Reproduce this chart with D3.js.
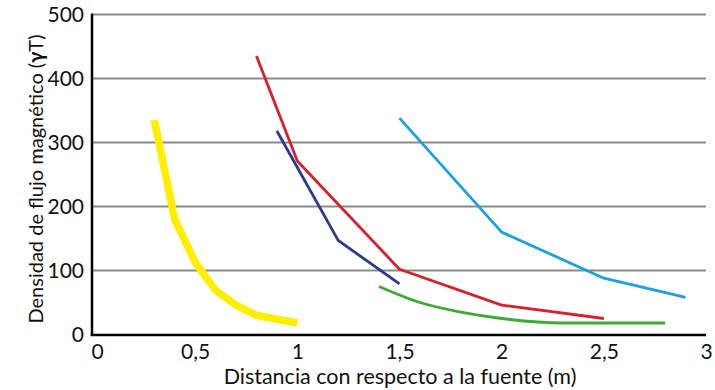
<!DOCTYPE html>
<html><head><meta charset="utf-8">
<script src="https://cdn.jsdelivr.net/npm/d3@7"></script>
<style>body{margin:0;background:#fff}svg{display:block}text{font-family:Lato,"Open Sans",sans-serif}</style>
</head><body><svg id="c" width="715" height="390"></svg>
<script>
const xTicks = [0, 0.5, 1, 1.5, 2, 2.5, 3];
const yTicks = [0, 100, 200, 300, 400, 500];
const yellowX = [0.3, 0.4, 0.5, 0.6, 0.7, 0.8, 1.0];
const yellowY = [335, 180, 113, 69, 46, 30, 18];
const redX = [0.8, 1.0, 1.5, 2.0, 2.5];
const redY = [435, 271, 102, 46, 25];
const navyX = [0.9, 1.2, 1.5];
const navyY = [318, 147, 79];
const skyX = [1.5, 2.0, 2.5, 2.9];
const skyY = [338, 160, 88, 58];
const greenX = [1.4, 1.6, 1.8, 2.0, 2.3, 2.8];
const greenY = [75, 50, 35, 25, 18, 18];

const svg = d3.select("#c");
const x = d3.scaleLinear().domain([0, 3]).range([93, 706]);
const y = d3.scaleLinear().domain([0, 500]).range([334.5, 14.5]);

// gridlines
svg.append("g").selectAll("line").data(yTicks.filter(d => d > 0)).join("line")
  .attr("x1", x(0)).attr("x2", x(3)).attr("y1", d => y(d)).attr("y2", d => y(d))
  .attr("stroke", "#8a8a8a").attr("stroke-width", 2);

// y axis labels
const ya = svg.append("g").attr("transform", `translate(${x(0) - 1},0)`)
  .call(d3.axisLeft(y).tickValues(yTicks).tickSize(0).tickPadding(8));
ya.select(".domain").remove();
ya.selectAll("text").attr("font-size", 21).attr("fill", "#111").attr("font-family", "Lato");

// x axis labels
const xa = svg.append("g").attr("transform", `translate(0,${y(0)})`)
  .call(d3.axisBottom(x).tickValues(xTicks).tickSize(0).tickPadding(10)
    .tickFormat(d => String(d).replace(".", ",")));
xa.select(".domain").remove();
xa.selectAll("text").attr("font-size", 21).attr("fill", "#111").attr("font-family", "Lato")
  .attr("dx", (d, i) => i === 0 ? 4 : 0);

// axis lines
svg.append("line").attr("x1", x(0) - 1).attr("x2", x(0) - 1).attr("y1", y(500) - 1).attr("y2", y(0) + 1.5)
  .attr("stroke", "#000").attr("stroke-width", 2.5);
svg.append("line").attr("x1", x(0) - 2.2).attr("x2", x(3)).attr("y1", y(0) + 0.5).attr("y2", y(0) + 0.5)
  .attr("stroke", "#000").attr("stroke-width", 2.5);

function series(xs, ys, color, w, curve) {
  const pts = xs.map((v, i) => [v, ys[i]]);
  svg.append("path").datum(pts)
    .attr("d", d3.line().x(d => x(d[0])).y(d => y(d[1])).curve(curve || d3.curveLinear))
    .attr("fill", "none").attr("stroke", color).attr("stroke-width", w)
    .attr("stroke-linejoin", "round");
}
series(greenX, greenY, "#3DAA35", 2.8, d3.curveMonotoneX);
series(skyX, skyY, "#1BA1E2", 2.8);
series(redX, redY, "#D9202A", 2.8);
series(navyX, navyY, "#2B3990", 2.8);
series(yellowX, yellowY, "#FFEE00", 7.5);

// axis titles
svg.append("text").attr("x", 400).attr("y", 384).attr("text-anchor", "middle")
  .attr("font-size", 21.5).attr("fill", "#111").text("Distancia con respecto a la fuente (m)");
const yt = svg.append("text").attr("transform", "translate(43,179) rotate(-90)")
  .attr("text-anchor", "middle").attr("font-size", 20).attr("fill", "#111");
yt.append("tspan").text("Densidad de flujo magnético (");
yt.append("tspan").attr("font-weight", "bold").text("γ");
yt.append("tspan").text("T)");
</script></body></html>
